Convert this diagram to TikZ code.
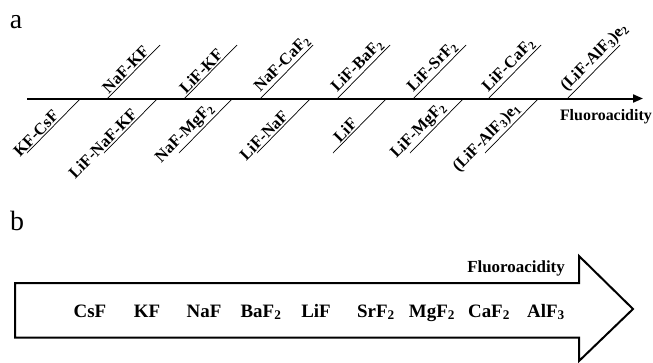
\documentclass[tikz,border=0pt]{standalone}
\usepackage{fontspec}
\setmainfont{Liberation Serif}
\usetikzlibrary{arrows.meta}
\newcommand\sbs[1]{\textsubscript{#1}}
\begin{document}
\begin{tikzpicture}[x=1bp,y=-1bp,
  tick/.style={line width=0.7bp},
  lab/.style={font=\fontsize{16.5}{16.5}\selectfont\bfseries, inner sep=1.5bp, sloped},
  toplab/.style={lab, anchor=south west, pos=0.04},
  botlab/.style={lab, anchor=south},
  panel/.style={font=\fontsize{28}{28}\selectfont, anchor=base, inner sep=0pt},
  blab/.style={font=\fontsize{19}{19}\selectfont\bfseries, anchor=base, inner sep=0pt},
  thick2/.style={line width=2bp}
]
\useasboundingbox (0,0) rectangle (653,362);
% panel a
\node[panel] (pa) at (16,28) {a};
\coordinate (axs) at (27,98.5);
\coordinate (axe) at (643,98.5);
\draw[thick2, -{Triangle[length=10bp,width=8bp]}] (axs) -- (axe);
\node[font=\fontsize{16}{16}\selectfont\bfseries, anchor=base east, inner sep=0pt] (fla) at (652,120) {Fluoroacidity};
% upper ticks
\draw[tick] (107,99) -- ++(53,-54) node[toplab] (t1) {NaF-KF};
\draw[tick] (184,99) -- ++(53,-54) node[toplab] (t2) {LiF-KF};
\draw[tick] (260,99) -- ++(53,-54) node[toplab] (t3) {NaF-CaF\sbs{2}};
\draw[tick] (337,99) -- ++(53,-54) node[toplab] (t4) {LiF-BaF\sbs{2}};
\draw[tick] (413,99) -- ++(53,-54) node[toplab] (t5) {LiF-SrF\sbs{2}};
\draw[tick] (488,99) -- ++(53,-54) node[toplab] (t6) {LiF-CaF\sbs{2}};
\draw[tick] (567,99) -- ++(53,-54) node[toplab] (t7) {(LiF-AlF\sbs{3})e\sbs{2}};
% lower ticks
\draw[tick] (27,153) -- ++(53,-54) node[botlab, pos=0.27] (b1) {KF-CsF};
\draw[tick] (104,153) -- ++(53,-54) node[botlab, pos=0.08] (b2) {LiF-NaF-KF};
\draw[tick] (179,153) -- ++(53,-54) node[botlab, pos=0.24] (b3) {NaF-MgF\sbs{2}};
\draw[tick] (257,153) -- ++(53,-54) node[botlab, pos=0.23] (b4) {LiF-NaF};
\draw[tick] (333,153) -- ++(53,-54) node[botlab, pos=0.33] (b5) {LiF};
\draw[tick] (410,153) -- ++(53,-54) node[botlab, pos=0.29] (b6) {LiF-MgF\sbs{2}};
\draw[tick] (485,153) -- ++(53,-54) node[botlab, pos=0.16] (b7) {(LiF-AlF\sbs{3})e\sbs{1}};
% panel b
\node[panel] (pb) at (17,230) {b};
\draw[thick2, line join=miter] (15,283) -- (579,283) -- (579,256) -- (633,309)
  -- (579,361) -- (579,337.5) -- (15,337.5) -- cycle;
\node[font=\fontsize{17}{17}\selectfont\bfseries, anchor=base east, inner sep=0pt] (flb) at (565,272) {Fluoroacidity};
\node[blab] (c1) at (90,317) {CsF};
\node[blab] (c2) at (147,317) {KF};
\node[blab] (c3) at (204,317) {NaF};
\node[blab] (c4) at (261,317) {BaF\sbs{2}};
\node[blab] (c5) at (316,317) {LiF};
\node[blab] (c6) at (376,317) {SrF\sbs{2}};
\node[blab] (c7) at (432,317) {MgF\sbs{2}};
\node[blab] (c8) at (489,317) {CaF\sbs{2}};
\node[blab] (c9) at (546,317) {AlF\sbs{3}};
\end{tikzpicture}
\end{document}
